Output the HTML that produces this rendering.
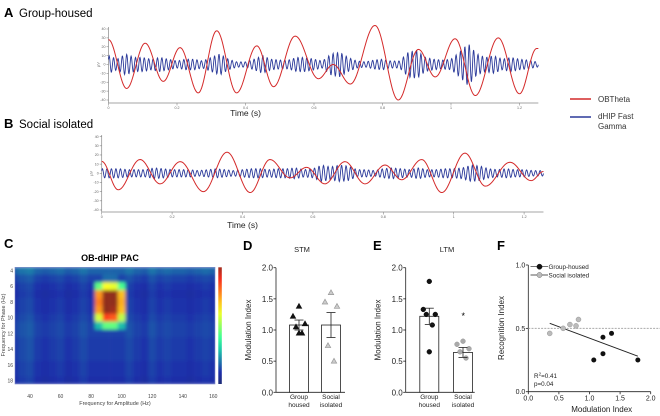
<!DOCTYPE html>
<html><head><meta charset="utf-8">
<style>
html,body{margin:0;padding:0;background:#fff;}
svg{display:block;font-family:"Liberation Sans",Arial,sans-serif;}
</style></head>
<body>
<svg id="fig" width="660" height="416" viewBox="0 0 660 416" xmlns="http://www.w3.org/2000/svg">
<defs>
  <filter id="blur" x="-5%" y="-5%" width="110%" height="110%"><feGaussianBlur stdDeviation="1.8"/></filter>
  <clipPath id="hmclip"><rect x="15" y="267.3" width="200" height="116.7"/></clipPath>
  <linearGradient id="cbgrad" x1="0" y1="1" x2="0" y2="0"></linearGradient>
</defs>
<text x="4" y="17" font-size="13" font-weight="bold">A</text>
<text x="19" y="17" font-size="11.5">Group-housed</text>
<text x="4" y="128" font-size="13" font-weight="bold">B</text>
<text x="19" y="128" font-size="11.5">Social isolated</text>
<text x="4" y="248" font-size="13" font-weight="bold">C</text>
<text x="243" y="250" font-size="13" font-weight="bold">D</text>
<text x="373" y="250" font-size="13" font-weight="bold">E</text>
<text x="497" y="250" font-size="13" font-weight="bold">F</text>

<g>
  <line x1="570" y1="99" x2="591" y2="99" stroke="#d42a2a" stroke-width="1.5"/>
  <text x="598" y="102" font-size="8" fill="#333">OBTheta</text>
  <line x1="570" y1="117" x2="591" y2="117" stroke="#2b3a9a" stroke-width="1.5"/>
  <text x="598" y="119" font-size="8" fill="#333">dHIP Fast</text>
  <text x="598" y="129" font-size="8" fill="#333">Gamma</text>
</g>

<g id="traceA"></g>
<g id="traceB"></g>
<g id="panelC"></g>
<g id="panelD"></g>
<g id="panelE"></g>
<g id="panelF"></g>
</svg>
<script>
const redA_t = [0,0.053,0.107,0.16,0.209,0.262,0.316,0.374,0.433,0.482,0.545,0.613,0.656,0.706,0.778,0.846,0.905,0.954,1.012,1.071,1.138,1.2,1.25];
const redA_v = [28,-27,24,-19,19,-32,38,-32,21,-25,32,-16,0,-22,44,-40,17,-14,29,-35,30,-33,18];
const blueA_env = [10,6,12,8,8,6,8,6,4,6,6,4,8,12,6,3,3,6,10,6,5,5,8,8,6,4,12,14,8,4,3,5,6,4,4,14,16,8,6,5,6,14,24,12,8,10,6,8,6,5,3];
const redB_t = [0,0.047,0.109,0.166,0.223,0.289,0.356,0.422,0.478,0.535,0.582,0.634,0.691,0.748,0.805,0.852,0.909,0.966,1.032,1.09,1.16,1.22,1.255];
const redB_v = [13,-18,15,-11.5,12.7,-20,23,-21,15,-5,6.5,-11.5,12.7,-11.5,9,-7,15,-21,22,-14,12,-8,2];
const blueB_env = [5,5,5,4,4,4,6,5,4,4,4,3,4,5,4,3,4,5,5,4,5,5,6,4,5,9,7,9,8,4,4,3,5,6,5,4,6,4,4,5,5,6,9,8,5,4,5,4,4,3,3];
const xTicksTrace = [0,0.2,0.4,0.6,0.8,1,1.2];
const yTicksTrace = [-40,-30,-20,-10,0,10,20,30,40];

const phaseRows = [4,5,6,7,8,9,10,11,12,13,14,15,16,17,18];
const ampCols = [30,35,40,45,50,55,60,65,70,75,80,85,90,95,100,105,110,115,120,125,130,135,140,145,150,155,160];
const bgRow = [0.19,0.15,0.13,0.12,0.13,0.13,0.14,0.15,0.15,0.14,0.14,0.14,0.13,0.13,0.12];
const bgCol = [0.0,0.02,0.03,0.0,-0.01,0.0,0.01,-0.01,0.0,0.02,0.0,0.0,0.0,0.0,0.0,0.02,0.0,-0.01,0.02,0.0,0.01,0.0,0.0,-0.01,0.0,0.01,0.0];
const hotCols = [80,85,90,95,100,105];
const hotVals = [
 [0,0,0,0,0,0],
 [0,0.08,0.2,0.2,0.08,0],
 [0.02,0.45,0.62,0.6,0.42,0.02],
 [0.05,0.75,1.0,1.0,0.7,0.05],
 [0.05,0.78,1.0,1.0,0.72,0.05],
 [0.05,0.75,1.0,0.98,0.7,0.05],
 [0.02,0.58,0.85,0.82,0.55,0.02],
 [0,0.3,0.45,0.45,0.3,0],
 [0,0.05,0.1,0.1,0.05,0],
 [0,0,0,0,0,0],[0,0,0,0,0,0],[0,0,0,0,0,0],[0,0,0,0,0,0],[0,0,0,0,0,0],[0,0,0,0,0,0]
];
const hmXTicks = [40,60,80,100,120,140,160];
const hmYTicks = [4,6,8,10,12,14,16,18];

const barCats = ["Group housed","Social isolated"];
const stmMeans = [1.08,1.08];
const stmSem = [0.08,0.2];
const stmGroupPts = [1.38,1.22,1.1,1.05,0.95,0.95];
const stmSocialPts = [1.6,1.45,1.38,0.75,0.5];
const ltmMeans = [1.22,0.64];
const ltmSem = [0.13,0.08];
const ltmGroupPts = [1.78,1.33,1.25,1.25,1.08,0.65];
const ltmSocialPts = [0.82,0.77,0.7,0.65,0.55];
const barYTicks = [0,0.5,1.0,1.5,2.0];

const socialX = [0.35,0.57,0.68,0.78,0.82];
const socialY = [0.46,0.50,0.53,0.52,0.57];
const groupX = [1.07,1.22,1.22,1.36,1.79];
const groupY = [0.25,0.30,0.43,0.46,0.25];
const fitX = [0.35,1.79];
const fitY = [0.54,0.28];
const scXTicks = [0.0,0.5,1.0,1.5,2.0];
const scYTicks = [0.0,0.5,1.0];

const NS = "http://www.w3.org/2000/svg";
function mk(parent, tag, attrs, text){
  const e = document.createElementNS(NS, tag);
  for (const k in attrs) e.setAttribute(k, attrs[k]);
  if (text !== undefined) e.textContent = text;
  parent.appendChild(e);
  return e;
}
function interpRed(ts, vs, t){
  for (let i=0;i<ts.length-1;i++){
    if (t>=ts[i] && t<=ts[i+1]){
      const f=(t-ts[i])/(ts[i+1]-ts[i]);
      const s=(1-Math.cos(Math.PI*f))/2;
      return vs[i]+(vs[i+1]-vs[i])*s;
    }
  }
  return vs[vs.length-1];
}
function interpEnv(env, t){
  const p=t/0.025, i=Math.min(Math.floor(p), env.length-2), f=p-i;
  return env[i]*(1-f)+env[i+1]*f;
}

function drawTrace(g, x0, pxs, y0, pxu, redT, redV, env, axisY, axisTop, labelY){
  const X=t=>x0+t*pxs, Y=v=>y0-v*pxu;
  let e=mk(g,'line',{x1:X(0),y1:axisTop,x2:X(0),y2:axisY,stroke:'#888','stroke-width':0.7});
   
  e=mk(g,'line',{x1:X(0),y1:axisY,x2:X(1.255),y2:axisY,stroke:'#888','stroke-width':0.7});
   
  yTicksTrace.forEach(v=>{
    mk(g,'line',{x1:X(0)-2,y1:Y(v),x2:X(0),y2:Y(v),stroke:'#888','stroke-width':0.6});
    const l=mk(g,'text',{x:X(0)-3,y:Y(v)+1.2,'font-size':3.6,fill:'#666','text-anchor':'end'},String(v));
     
  });
  xTicksTrace.forEach(v=>{
    mk(g,'line',{x1:X(v),y1:axisY,x2:X(v),y2:axisY+2.5,stroke:'#888','stroke-width':0.6});
    const l=mk(g,'text',{x:X(v),y:axisY+6,'font-size':3.6,fill:'#666','text-anchor':'middle'},String(v));
     
  });
  const u=mk(g,'text',{x:X(0)-9,y:y0,'font-size':4,fill:'#666','text-anchor':'middle',transform:`rotate(-90 ${X(0)-9} ${y0})`},'µV');
   
  const tl=mk(g,'text',{x:X(0.4),y:labelY,'font-size':8.5,fill:'#222','text-anchor':'middle'},'Time (s)');
   
  let d='';
  for (let i=0;i<=1255;i++){
    const t=i/1000;
    const v=interpEnv(env,Math.min(t,1.25))*Math.sin(2*Math.PI*78*t+0.6);
    d+=(i?'L':'M')+X(t).toFixed(2)+' '+Y(v).toFixed(2);
  }
  const b=mk(g,'path',{d:d,fill:'none',stroke:'#2b3a9a','stroke-width':0.9});
   
  d='';
  for (let i=0;i<=502;i++){
    const t=i/400;
    d+=(i?'L':'M')+X(t).toFixed(2)+' '+Y(interpRed(redT,redV,t)).toFixed(2);
  }
  const r=mk(g,'path',{d:d,fill:'none',stroke:'#d42a2a','stroke-width':1});
   
}
drawTrace(document.getElementById('traceA'),108.5,342.5,64.5,0.8875,redA_t,redA_v,blueA_env,103,27,116);
drawTrace(document.getElementById('traceB'),101.7,352,173.3,0.917,redB_t,redB_v,blueB_env,212,135,228);

function jet(v){
  v=Math.max(0,Math.min(1,v));
  const c=x=>Math.max(0,Math.min(1,1.5-Math.abs(x)));
  const r=c(4*v-3), g=c(4*v-2), b=c(4*v-1);
  return `rgb(${Math.round(r*225+30)},${Math.round(g*210+45)},${Math.round(b*140+30)})`;
}
(function(){
  const g=document.getElementById('panelC');
  const X=a=>30+(a-40)*1.5275, Y=p=>270.7+(p-4)*7.857;
  const t=mk(g,'text',{x:110,y:261,'font-size':9,'font-weight':'bold','text-anchor':'middle'},'OB-dHIP PAC');
   
  const clip=mk(g,'g',{'clip-path':'url(#hmclip)'});
  const cells=mk(clip,'g',{filter:'url(#blur)'});
  phaseRows.forEach((p,ri)=>{
    ampCols.forEach((a,ci)=>{
      let v=bgRow[ri]+bgCol[ci];
      const hi=hotCols.indexOf(a);
      if(hi>=0) v=Math.max(v,hotVals[ri][hi]);
      const c=mk(cells,'rect',{x:X(a)-3.9,y:Y(p)-4.1,width:7.9,height:8.3,fill:jet(v)});
       
    });
  });
  mk(g,'rect',{x:15,y:267.3,width:200,height:116.7,fill:'none',stroke:'#7a86c8','stroke-width':0.6});
  hmXTicks.forEach(a=>{
    const l=mk(g,'text',{x:X(a),y:398,'font-size':5,fill:'#444','text-anchor':'middle'},String(a));
     
  });
  hmYTicks.forEach(p=>{
    const l=mk(g,'text',{x:13,y:Y(p)+1.8,'font-size':5,fill:'#444','text-anchor':'end'},String(p));
     
  });
  let l=mk(g,'text',{x:115,y:405,'font-size':5.5,fill:'#444','text-anchor':'middle'},'Frequency for Amplitude (Hz)');
   
  l=mk(g,'text',{x:5,y:325,'font-size':5.5,fill:'#444','text-anchor':'middle',transform:'rotate(-90 5 325)'},'Frequency for Phase (Hz)');
   
  const grad=document.getElementById('cbgrad');
  for(let i=0;i<=10;i++){ mk(grad,'stop',{offset:(i*10)+'%','stop-color':jet(i/10*0.95+0.03)}); }
  const cb=mk(g,'rect',{x:218.3,y:267.3,width:3.5,height:116.7,fill:'url(#cbgrad)'});
   
})();

function drawBars(g, axisX, centers, means, sem, ptsG, ptsS, marker, title, titleX){
  const Y=v=>392.3-v*62.3;
  let e=mk(g,'line',{x1:axisX,y1:Y(2),x2:axisX,y2:Y(0),stroke:'#222','stroke-width':0.8});
   
  e=mk(g,'line',{x1:axisX,y1:Y(0),x2:axisX+69,y2:Y(0),stroke:'#222','stroke-width':0.8});
   
  barYTicks.forEach(v=>{
    mk(g,'line',{x1:axisX-2.5,y1:Y(v),x2:axisX,y2:Y(v),stroke:'#222','stroke-width':0.8});
    const l=mk(g,'text',{x:axisX-3,y:Y(v)+3,'font-size':8,fill:'#222','text-anchor':'end'},v.toFixed(1));
     
  });
  const yt=mk(g,'text',{x:axisX-25,y:Y(1),'font-size':8,fill:'#222','text-anchor':'middle',transform:`rotate(-90 ${axisX-25} ${Y(1)})`},'Modulation Index');
   
  const tt=mk(g,'text',{x:titleX,y:252,'font-size':7.5,fill:'#222','text-anchor':'middle'},title);
   
  centers.forEach((c,i)=>{
    const b=mk(g,'rect',{x:c-9.5,y:Y(means[i]),width:19,height:Y(0)-Y(means[i]),fill:'#fff',stroke:'#222','stroke-width':0.8});
     
    const w=barCats[i].split(' ');
    w.forEach((s,k)=>{
      const l=mk(g,'text',{x:c,y:399+k*8,'font-size':6.5,fill:'#222','text-anchor':'middle'},s);
       
    });
  });
  function pts(arr,c,fill,stroke){
    const offs=[0,-6,6,-3,3,0];
    arr.forEach((v,k)=>{
      const x=c+offs[k%offs.length], y=Y(v);
      let m;
      if(marker==='tri') m=mk(g,'path',{d:`M${x} ${y-2.8}L${x+2.7} ${y+2}L${x-2.7} ${y+2}Z`,fill:fill,stroke:stroke,'stroke-width':0.7});
      else m=mk(g,'circle',{cx:x,cy:y,r:2.4,fill:fill,stroke:stroke,'stroke-width':0.5});
       
    });
  }
  pts(ptsG,centers[0],'#111','#111');
  pts(ptsS,centers[1],marker==='tri'?'#ccc':'#aaa','#999');
  centers.forEach((c,i)=>{
    mk(g,'line',{x1:c,y1:Y(means[i]-sem[i]),x2:c,y2:Y(means[i]+sem[i]),stroke:'#222','stroke-width':0.8});
    [means[i]-sem[i],means[i]+sem[i]].forEach(v=>mk(g,'line',{x1:c-4.5,y1:Y(v),x2:c+4.5,y2:Y(v),stroke:'#222','stroke-width':0.8}));
  });
}
drawBars(document.getElementById('panelD'),276,[299,331],stmMeans,stmSem,stmGroupPts,stmSocialPts,'tri','STM',302);
drawBars(document.getElementById('panelE'),405.7,[429.3,463],ltmMeans,ltmSem,ltmGroupPts,ltmSocialPts,'dot','LTM',447);
(function(){
  const s=mk(document.getElementById('panelE'),'text',{x:463.3,y:319,'font-size':9,'text-anchor':'middle'},'*');
   
})();

(function(){
  const g=document.getElementById('panelF');
  const X=v=>528.3+v*61.2, Y=v=>391.7-v*126.7;
  let e=mk(g,'line',{x1:X(0),y1:Y(1),x2:X(0),y2:Y(0),stroke:'#222','stroke-width':0.8});
   
  e=mk(g,'line',{x1:X(0),y1:Y(0),x2:X(2),y2:Y(0),stroke:'#222','stroke-width':0.8});
   
  scYTicks.forEach(v=>{
    mk(g,'line',{x1:X(0)-2.5,y1:Y(v),x2:X(0),y2:Y(v),stroke:'#222','stroke-width':0.8});
    const l=mk(g,'text',{x:X(0)-3,y:Y(v)+2.5,'font-size':7,fill:'#222','text-anchor':'end'},v.toFixed(1));
     
  });
  scXTicks.forEach(v=>{
    mk(g,'line',{x1:X(v),y1:Y(0),x2:X(v),y2:Y(0)+2.5,stroke:'#222','stroke-width':0.8});
    const l=mk(g,'text',{x:X(v),y:Y(0)+9,'font-size':7,fill:'#222','text-anchor':'middle'},v.toFixed(1));
     
  });
  e=mk(g,'line',{x1:X(0),y1:Y(0.5),x2:660,y2:Y(0.5),stroke:'#aaa','stroke-width':1,'stroke-dasharray':'2 1.2'});
   
  e=mk(g,'line',{x1:X(fitX[0]),y1:Y(fitY[0]),x2:X(fitX[1]),y2:Y(fitY[1]),stroke:'#222','stroke-width':0.9});
   
  socialX.forEach((x,i)=>{
    const c=mk(g,'circle',{cx:X(x),cy:Y(socialY[i]),r:2.5,fill:'#bbb',stroke:'#888','stroke-width':0.4});
     
  });
  groupX.forEach((x,i)=>{
    const c=mk(g,'circle',{cx:X(x),cy:Y(groupY[i]),r:2.5,fill:'#111'});
     
  });
  [['Group-housed','#111','#111',266.7],['Social isolated','#bbb','#777',275]].forEach(([lab,f,s,y])=>{
    mk(g,'line',{x1:530.5,y1:y,x2:548,y2:y,stroke:'#222','stroke-width':0.7});
    mk(g,'circle',{cx:539.5,cy:y,r:2.6,fill:f,stroke:s,'stroke-width':0.5});
    const l=mk(g,'text',{x:548.5,y:y+2.3,'font-size':6.3,fill:'#222'},lab);
     
  });
  let l=mk(g,'text',{x:534,y:378,'font-size':6.3,fill:'#222'});
   
  l.innerHTML='R<tspan dy="-2.5" font-size="4.5">2</tspan><tspan dy="2.5">=0.41</tspan>';
  l=mk(g,'text',{x:534,y:386,'font-size':6.3,fill:'#222'},'p=0.04');
   
  l=mk(g,'text',{x:601.7,y:412,'font-size':8,fill:'#222','text-anchor':'middle'},'Modulation Index');
   
  l=mk(g,'text',{x:504,y:328,'font-size':8,fill:'#222','text-anchor':'middle',transform:'rotate(-90 504 328)'},'Recognition Index');
   
})();
</script>
</body></html>
